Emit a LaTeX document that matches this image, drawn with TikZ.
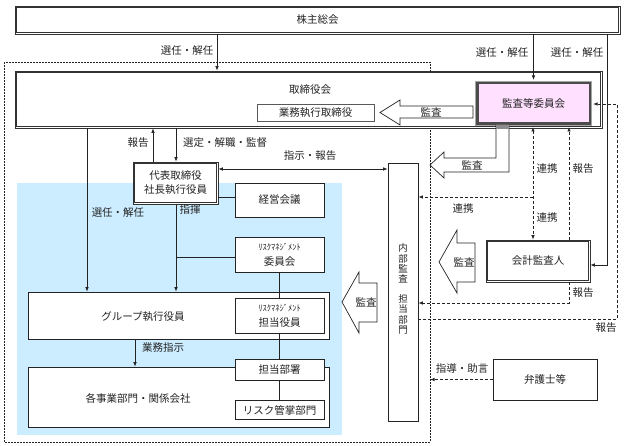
\documentclass[tikz,border=0pt]{standalone}
\usepackage{fontspec}
\setmainfont{Noto Sans CJK JP}
\usetikzlibrary{arrows.meta,calc}
\definecolor{skyfill}{RGB}{204,236,255}
\definecolor{pinkfill}{RGB}{255,224,255}
\definecolor{inkc}{RGB}{35,35,35}
\begin{document}
\begin{tikzpicture}[x=1pt,y=-1pt,
  every node/.style={font=\fontsize{10.5}{13}\selectfont, text=inkc, inner sep=0pt},
  box/.style={draw=inkc, fill=white, line width=0.7pt, align=center},
  dbox/.style={draw=black!80, fill=white, line width=0.7pt, align=center},
  inset/.style={draw=black!80, line width=0.7pt},
  kbox/.style={draw=black!70, fill=pinkfill, line width=3pt, align=center},
  kmid/.style={draw=black!35, line width=0.8pt},
  plain/.style={draw=inkc, line width=0.7pt},
  arr/.style={plain, -{Latex[length=4.5pt,width=3.5pt]}},
  arrr/.style={plain, {Latex[length=4.5pt,width=3.5pt]}-{Latex[length=4.5pt,width=3.5pt]}},
  dsh/.style={draw=inkc, line width=0.8pt, dash pattern=on 3pt off 2pt},
  darr/.style={dsh, -{Latex[length=4.5pt,width=3.5pt]}},
  darrr/.style={dsh, {Latex[length=4.5pt,width=3.5pt]}-{Latex[length=4.5pt,width=3.5pt]}},
  dotline/.style={draw=inkc, line width=0.7pt, dash pattern=on 1.8pt off 1.2pt},
  barrow/.style={draw=inkc, fill=white, line width=0.7pt, line join=miter}
]
\useasboundingbox (0,0) rectangle (625,446);
% background areas
\fill[skyfill] (17,183) rectangle (342,435);
\draw[dotline] (4,62) rectangle (430,442);

% main boxes
\node[dbox, minimum width=605pt, minimum height=28pt] (kabu) at (317.5,20) {株主総会};
\draw[inset] ($(kabu.north west)+(2,2)$) rectangle ($(kabu.south east)+(-2,-2)$);
\node[dbox, minimum width=587pt, minimum height=57pt] (tori) at (308.5,99.5) {};
\draw[inset] ($(tori.north west)+(2,2)$) rectangle ($(tori.south east)+(-2,-2)$);
\node (toritxt) at (310,90) {取締役会};
\node[box, draw=black!65, minimum width=117pt, minimum height=17pt] (gyomu) at (315.5,112.5) {業務執行取締役};
\node[kbox, minimum width=113pt, minimum height=41pt] (kansa) at (533.5,103.5) {監査等委員会};
\draw[kmid] (kansa.north west) rectangle (kansa.south east);
\node[dbox, minimum width=85pt, minimum height=42pt, font=\fontsize{10.5}{14}\selectfont] (daihyo) at (175.5,183) {代表取締役\\社長執行役員};
\draw[inset] ($(daihyo.north west)+(2,2)$) rectangle ($(daihyo.south east)+(-2,-2)$);
\node[box, minimum width=89pt, minimum height=34pt] (keiei) at (279.5,200) {経営会議};
\node[box, minimum width=89pt, minimum height=35pt] (riskiin) at (279.5,254.5) {{\fontsize{8.5}{10}\selectfont ﾘｽｸﾏﾈｼﾞﾒﾝﾄ}\\[2pt]委員会};
\node[box, minimum width=301pt, minimum height=47pt] (group) at (178.5,315.5) {};
\node (grouptxt) at (143,317) {グループ執行役員};
\node[box, minimum width=89pt, minimum height=35pt] (risktanto) at (279.5,315.5) {{\fontsize{8.5}{10}\selectfont ﾘｽｸﾏﾈｼﾞﾒﾝﾄ}\\[2pt]担当役員};
\node[box, minimum width=301pt, minimum height=60pt] (kakujigyo) at (178.5,397) {};
\node (kakutxt) at (138,398) {各事業部門・関係会社};
\node[box, minimum width=89pt, minimum height=21pt] (tantobusho) at (279.5,369.5) {担当部署};
\node[box, minimum width=89pt, minimum height=19pt] (riskkansho) at (279.5,410) {リスク管掌部門};
\node[box, minimum width=30pt, minimum height=258pt] (naibu) at (403,292) {};
\node[font=\fontsize{9.5}{10.2}\selectfont, align=center] (naibutxt) at (403,289) {内\\部\\監\\査\\[10pt]担\\当\\部\\門};
\node[dbox, minimum width=104pt, minimum height=42pt] (kaikei) at (538,261) {会計監査人};
\draw[inset] ($(kaikei.north west)+(2,2)$) rectangle ($(kaikei.south east)+(-2,-2)$);
\node[box, minimum width=104pt, minimum height=41pt] (bengo) at (545,379.5) {弁護士等};

% solid connectors
\draw[arr] (kabu.south -| 217,0) -- (tori.north -| 217,0);
\draw[arr] (kabu.south -| kansa.north) -- ($(kansa.north)+(0,-1.5)$);
\draw[arr] (kabu.south -| 607,0) |- (kaikei.east |- 0,265);
\draw[arr] (tori.south -| 87,0) -- (group.north -| 87,0);
\draw[arr] (daihyo.north -| 153,0) -- (tori.south -| 153,0);
\draw[arr] (tori.south -| 176,0) -- (daihyo.north -| 176,0);
\draw[arrr] (daihyo.east |- 0,169) -- (naibu.west |- 0,169);
\draw[plain] (daihyo.east |- 0,197) -- (keiei.west |- 0,197);
\draw[arr] (daihyo.south -| 176,0) -- (group.north -| 176,0);
\coordinate (br) at (176,257);
\draw[plain] (br) -- (riskiin.west |- br);
\draw[plain] (riskiin.south) -- (risktanto.north);
\draw[plain] (risktanto.south) -- (tantobusho.north);
\draw[plain] (tantobusho.south) -- (riskkansho.north);
\draw[arr] (group.south -| 135,0) -- (kakujigyo.north -| 135,0);

% dashed connectors
\draw[darrr] ($(kansa.south -| 533,0)+(0,1.5)$) -- (kaikei.north -| 533,0);
\coordinate (dm) at (533,197);
\draw[darr] (dm) -- (naibu.east |- dm);
\draw[darr] (kaikei.north -| 569,0) -- ($(kansa.south -| 569,0)+(0,1.5)$);
\draw[darr] (kaikei.south -| 569,0) |- (naibu.east |- 0,303);
\draw[darr] (naibu.east |- 0,319) -| (617,104) -- ($(kansa.east |- 0,104)+(1.5,0)$);
\draw[darr] (bengo.west) -- (bengo.west -| 430,0);

% block arrows (監査)
\draw[barrow] (380,112.5) -- (400,100) -- (400,106) -- (473,106) -- (473,118) -- (400,118) -- (400,125) -- cycle;
\fill[black!45] (496,125) rectangle (509,129);
\draw[barrow] (496,125) -- (496,158) -- (444,158) -- (444,152) -- (430,165) -- (444,178) -- (444,172) -- (509,172) -- (509,125);
\fill[black!45] (496.4,125.5) rectangle (508.6,129);
\draw[barrow] (439,262) -- (457,230) -- (457,243) -- (475,243) -- (475,282) -- (457,282) -- (457,293) -- cycle;
\draw[barrow] (342,302) -- (359,272) -- (359,283) -- (377,283) -- (377,322) -- (359,322) -- (359,333) -- cycle;
\node (ka1) at (431,112) {監査};
\node (ka2) at (472,165.5) {監査};
\node (ka3) at (464,262) {監査};
\node (ka4) at (366,302) {監査};

% labels
\node (l1) at (187,51) {選任・解任};
\node (l2) at (502,53) {選任・解任};
\node (l3) at (577,53) {選任・解任};
\node (l4) at (138,143) {報告};
\node (l5) at (225,143) {選定・解職・監督};
\node (l6) at (310,156) {指示・報告};
\node (l7) at (118,213) {選任・解任};
\node (l8) at (190,210) {指揮};
\node (l9) at (163,348) {業務指示};
\node (l10) at (547,169) {連携};
\node (l11) at (547,218) {連携};
\node (l12) at (463,209) {連携};
\node (l13) at (583,169) {報告};
\node (l14) at (583,293) {報告};
\node (l15) at (606,328) {報告};
\node (l16) at (462,369) {指導・助言};
\end{tikzpicture}
\end{document}
